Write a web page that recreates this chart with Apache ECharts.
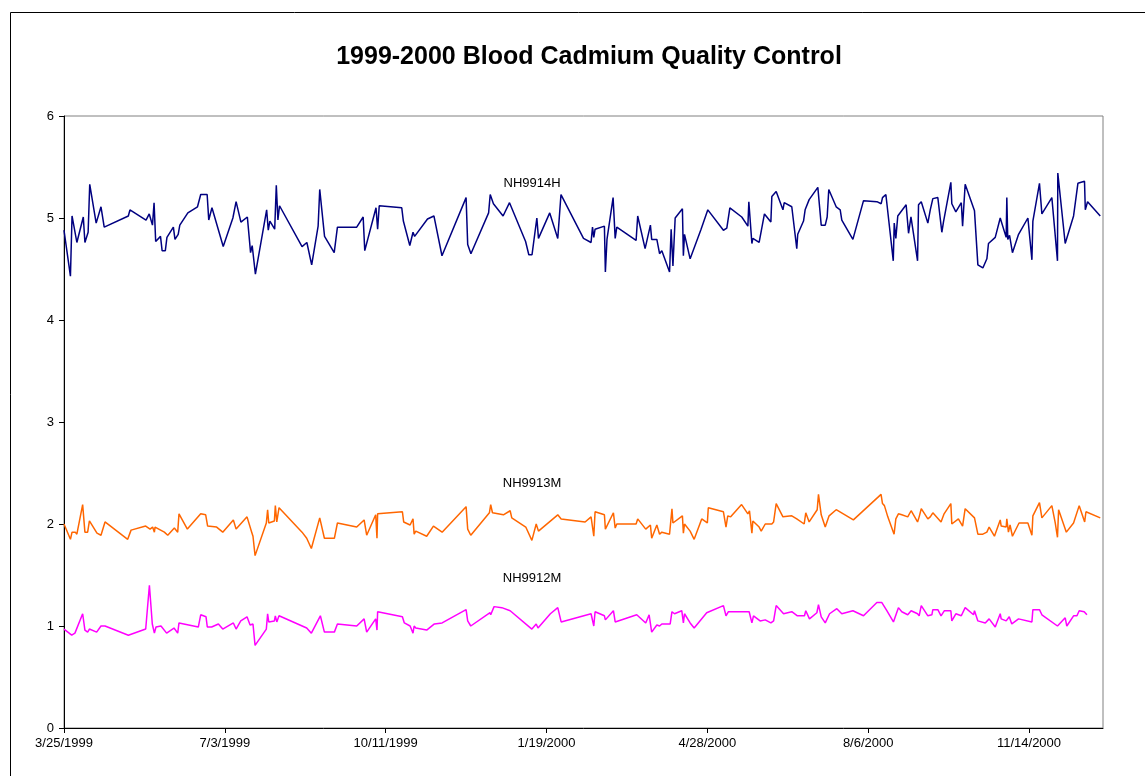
<!DOCTYPE html>
<html>
<head>
<meta charset="utf-8">
<script src="https://cdn.jsdelivr.net/npm/echarts@6/dist/echarts.min.js"></script>
<style>
  html, body { margin: 0; padding: 0; background: #fff; }
  #main { width: 1145px; height: 776px; }
</style>
</head>
<body>
<div id="main"></div>
<script>
// x values are days since the first run, 3/25/1999
var startDate = Date.UTC(1999, 2, 25);
var xTickStep = 100;
var xMaxDay = 646;
var yTicks = [0, 1, 2, 3, 4, 5, 6];
var seriesNames = ['NH9914H', 'NH9913M', 'NH9912M'];

var nh9914H = [
  [0,4.88],[4,4.43],[5,5.02],[8,4.76],[12,5.01],[13,4.76],[15,4.86],[16,5.33],[20,4.95],[23,5.11],
  [25,4.91],[40,5.02],[41,5.08],[51,4.98],[53,5.04],[55,4.93],[56,5.15],[57,4.77],[60,4.82],[61,4.68],
  [63,4.68],[64,4.81],[68,4.91],[69,4.79],[71,4.84],[72,4.93],[77,5.05],[83,5.11],[85,5.23],[89,5.23],
  [90,4.98],[92,5.10],[99,4.72],[105,5.0],[107,5.16],[110,4.96],[114,5.01],[116,4.66],[117,4.73],[119,4.45],
  [126,5.08],[127,4.88],[128,4.97],[131,4.89],[132,5.32],[133,4.98],[134,5.12],[148,4.72],[151,4.76],[154,4.54],
  [158,4.92],[159,5.28],[162,4.82],[168,4.66],[170,4.91],[182,4.91],[186,5.01],[187,4.68],[194,5.10],[195,4.89],
  [196,5.12],[210,5.10],[211,4.97],[215,4.73],[217,4.86],[218,4.82],[226,4.99],[230,5.02],[235,4.63],[250,5.20],
  [251,4.74],[253,4.65],[264,5.05],[265,5.23],[267,5.14],[273,5.02],[277,5.15],[287,4.77],[289,4.64],[291,4.64],
  [294,5.00],[295,4.80],[302,5.05],[307,4.80],[309,5.23],[323,4.80],[327.7,4.76],[328.6,4.91],[329.4,4.81],[330.2,4.89],
  [336,4.92],[336.6,4.47],[337.6,4.79],[341.4,5.20],[342.7,4.80],[343.7,4.91],[355.7,4.78],[356.7,5.02],[361.3,4.70],[364.6,4.93],
  [365.4,4.79],[368.6,4.79],[370.3,4.65],[371.7,4.68],[376.5,4.47],[377.5,4.89],[378.6,4.53],[380,5.00],[384.5,5.09],[385.1,4.63],
  [385.8,4.84],[389.3,4.60],[396.1,4.89],[400.3,5.08],[410,4.88],[412.1,4.90],[414,5.10],[421.4,5.01],[425.2,4.92],[425.8,5.16],
  [427.7,4.75],[428.3,4.80],[432.2,4.76],[435.5,5.04],[439.5,4.96],[440.1,5.21],[441.2,5.20],[442.8,5.26],[447,5.08],[447.8,5.15],
  [452.5,5.11],[455.6,4.70],[456.2,4.84],[459.8,4.97],[460.8,5.08],[463.3,5.18],[468.7,5.30],[470.8,4.93],[473.3,4.93],[474.5,5.01],
  [475.5,5.28],[480.1,5.11],[482.6,5.08],[483.6,4.98],[490.5,4.79],[497.1,5.17],[505.4,5.16],[508.1,5.14],[508.9,5.20],[511,5.23],
  [515.6,4.58],[516.2,4.95],[517.2,4.80],[518.4,5.02],[523.6,5.13],[525.1,4.85],[526.6,5.01],[530.7,4.58],[531.3,5.13],[533,5.16],
  [537.1,4.95],[538.6,5.08],[539.6,5.08],[540.2,5.19],[543.3,5.20],[545.8,4.86],[546.8,4.96],[551.4,5.35],[552,5.14],[554.5,5.06],
  [557.9,5.15],[558.7,4.92],[560.3,5.33],[566.1,5.07],[568.2,4.54],[571.3,4.51],[573.8,4.60],[574.8,4.75],[579,4.81],[582.1,5.00],
  [585.8,4.81],[586.2,5.20],[586.8,4.79],[587.9,4.83],[589.7,4.66],[593.5,4.84],[599.3,5.00],[601.8,4.59],[602.4,4.97],[606.5,5.34],
  [608,5.04],[614.2,5.20],[617.7,4.58],[617.9,5.44],[622.5,4.75],[627.7,5.02],[630.4,5.34],[634.5,5.36],[635,5.08],[636.4,5.16],
  [644.3,5.02]
];

var nh9913M = [
  [0,2.00],[4,1.85],[5,1.92],[7,1.92],[8,1.90],[11.6,2.19],[13,1.92],[14.7,1.92],[15.8,2.03],[20.5,1.91],
  [23,1.89],[25.5,2.02],[39.6,1.85],[41.7,1.94],[50.8,1.98],[53.5,1.95],[55.1,1.97],[56.2,1.92],[56.6,1.97],[62.4,1.92],
  [64.5,1.89],[68.6,1.96],[70.7,1.92],[71.5,2.10],[76.7,1.95],[85,2.10],[88.1,2.09],[89.3,1.98],[94.9,1.97],[98.7,1.92],
  [105.3,2.04],[107,1.95],[113.8,2.07],[116.7,1.92],[117.5,1.88],[118.8,1.69],[125.8,2.01],[126.6,2.14],[127.3,2.01],[130.8,2.03],
  [131.4,2.18],[132.3,2.02],[133.7,2.16],[148,1.92],[150.9,1.86],[153.8,1.76],[159,2.06],[161.9,1.86],[168.1,1.86],[170,2.01],
  [182,1.97],[186.6,2.04],[188.2,1.89],[193.8,2.09],[194.6,1.86],[195,2.10],[210.4,2.12],[211.2,2.02],[215.2,1.99],[217,2.05],
  [217.7,1.90],[218.7,1.93],[225.5,1.88],[229.7,1.98],[235.1,1.92],[250,2.17],[251,1.95],[252.9,1.89],[264.5,2.11],[265.3,2.19],
  [266.4,2.11],[273.2,2.09],[277.4,2.13],[278.4,2.06],[287.1,1.97],[290.9,1.84],[293.6,2.00],[295,1.93],[307,2.09],[309.1,2.05],
  [324,2.02],[327.7,2.07],[329.4,1.88],[330.2,2.12],[336,2.09],[336.6,1.95],[341.6,2.11],[342.7,1.96],[343.7,2.00],[355.7,2.00],
  [356.7,2.05],[361.7,1.95],[364.6,1.99],[365.4,1.86],[368.6,1.99],[370.3,1.90],[371.7,1.92],[376.5,1.90],[378,2.15],[378.6,2.01],
  [384.5,2.08],[385.1,1.91],[385.8,2.00],[389.3,1.93],[391.8,1.85],[396.5,2.05],[400,2.01],[400.6,2.16],[410,2.12],[411.6,1.97],
  [412.7,2.08],[414.5,2.07],[421.3,2.19],[425.2,2.10],[426.2,2.13],[427.7,1.91],[428.3,2.03],[432.2,1.97],[433.5,1.93],[436,2.00],
  [440.1,2.00],[441.2,2.02],[442.8,2.20],[447,2.07],[452.5,2.08],[455.6,2.05],[460.2,2.00],[461.2,2.11],[463.3,2.02],[468.3,2.14],
  [469.1,2.29],[470.8,2.09],[473.3,1.97],[475.7,2.08],[480.1,2.14],[490.8,2.04],[508,2.29],[508.9,2.20],[510.1,2.18],[512.2,2.07],
  [516.1,1.90],[517.2,2.05],[518.8,2.10],[520.9,2.09],[524.6,2.07],[526.7,2.13],[530.7,2.02],[531.7,2.07],[533,2.15],[537.1,2.05],
  [538.6,2.07],[540.2,2.11],[545.3,2.02],[547.2,2.10],[551.4,2.20],[552,2.00],[556.1,2.05],[558.7,1.98],[560.3,2.15],[566.1,2.06],
  [568.2,1.90],[571.3,1.90],[573.8,1.92],[575.2,1.97],[578.5,1.88],[582.1,2.04],[582.7,1.98],[585.8,1.97],[586.2,2.05],[587.2,1.92],
  [588.2,1.99],[589.7,1.88],[593.8,2.01],[599.3,2.01],[601.8,1.89],[602.4,2.08],[606.5,2.21],[608,2.06],[614.2,2.18],[616.3,2.01],
  [617.7,1.87],[618.4,2.14],[623.2,1.92],[627.7,2.01],[628.8,2.01],[631.2,2.18],[634.6,2.02],[635.4,2.12],[644.3,2.06]
];

var nh9912M = [
  [0,0.97],[4.8,0.91],[6.8,0.93],[11.6,1.12],[13,0.96],[14.7,0.94],[15.8,0.97],[20.3,0.94],[23,1.00],[25.5,1.00],
  [40,0.91],[50.8,0.97],[53.1,1.40],[54.9,1.02],[56.2,0.93],[57.2,0.99],[60.3,1.00],[63.8,0.93],[68.4,0.98],[70.7,0.93],
  [71.5,1.03],[83.5,0.99],[85,1.11],[88.3,1.09],[89.1,0.99],[91.8,0.99],[96,1.02],[98.7,0.97],[105.3,1.03],[107,0.97],
  [109.9,1.05],[113.8,1.09],[115.7,1.01],[117.5,1.02],[118.8,0.81],[125.8,0.97],[126.6,1.12],[127.3,1.04],[130.8,1.05],[131.4,1.10],
  [132.3,1.04],[133.7,1.10],[150.9,0.98],[153.8,0.93],[159.4,1.10],[161.9,0.94],[168.1,0.94],[170,1.02],[182,1.00],[186.6,1.07],
  [188.2,0.94],[193.8,1.07],[194.6,0.96],[195,1.14],[210.4,1.09],[211.6,1.03],[215.2,1.00],[217,0.93],[217.7,1.00],[218.7,0.98],
  [225.5,0.96],[230.3,1.02],[235.1,1.03],[250,1.16],[251,1.05],[252.9,1.00],[264.9,1.13],[265.3,1.11],[267.4,1.19],[272.2,1.18],
  [277.4,1.15],[290.9,0.97],[293.6,1.02],[294.7,0.98],[302.4,1.12],[307,1.18],[309.1,1.04],[327.7,1.12],[329.4,1.00],[330.2,1.14],
  [336,1.10],[336.6,1.06],[341.6,1.15],[342.7,1.04],[356.1,1.11],[361.7,1.03],[363.8,1.11],[365.4,0.94],[368.6,1.01],[370.3,1.00],
  [371.7,1.02],[376.9,1.02],[378,1.14],[379.6,1.12],[384.1,1.15],[385.1,1.03],[385.8,1.12],[389.3,1.03],[391.8,0.98],[399.6,1.13],
  [410,1.20],[411.6,1.10],[413.1,1.14],[426,1.14],[427.7,1.03],[428.7,1.10],[432.8,1.05],[436,1.06],[439.5,1.03],[441.2,1.05],
  [442.8,1.20],[447.4,1.12],[452.5,1.14],[456,1.10],[460.4,1.10],[461.2,1.15],[463.5,1.07],[468.1,1.13],[469.1,1.21],[470.8,1.09],
  [473.3,1.03],[476,1.12],[480.5,1.17],[483.6,1.12],[490.5,1.15],[497.1,1.10],[505.4,1.23],[508.5,1.23],[511.6,1.15],[515.7,1.04],
  [518.8,1.18],[520.9,1.14],[524.6,1.11],[526.7,1.15],[530.7,1.12],[531.7,1.10],[533,1.20],[537.1,1.10],[539.6,1.11],[540.2,1.16],
  [543.3,1.16],[545.3,1.10],[547.4,1.15],[551.4,1.15],[552,1.05],[554.5,1.12],[557.9,1.10],[560.3,1.18],[565.5,1.11],[566.1,1.15],
  [568.2,1.05],[572.8,1.03],[575.2,1.07],[579,0.99],[582.1,1.12],[582.7,1.07],[585.8,1.05],[587.7,1.09],[589.3,1.02],[593.5,1.07],
  [601.8,1.04],[602.4,1.16],[606.5,1.16],[608,1.11],[617.7,1.00],[622.5,1.08],[623.5,1.00],[627.7,1.10],[629.8,1.10],[631.2,1.15],
  [634.3,1.14],[636,1.11]
];

// where each series name label sits, in data units [day, value]
var nameLabelAt = [[291, 5.34], [291, 2.40], [291, 1.47]];

var colors = ['#000080', '#FF6600', '#FF00FF'];
var fontFamily = '"Liberation Sans", Arial, sans-serif';

function dayToLabel(d) {
  var dt = new Date(startDate + d * 86400000);
  return (dt.getUTCMonth() + 1) + '/' + dt.getUTCDate() + '/' + dt.getUTCFullYear();
}

var chart = echarts.init(document.getElementById('main'));
var allData = [nh9914H, nh9913M, nh9912M];

var series = [];
for (var i = 0; i < allData.length; i++) {
  series.push({
    name: seriesNames[i],
    type: 'line',
    data: allData[i],
    symbol: 'none',
    lineStyle: { color: colors[i], width: 1.5 },
    itemStyle: { color: colors[i] },
    markPoint: {
      symbol: 'circle',
      symbolSize: 0,
      silent: true,
      data: [{ coord: nameLabelAt[i] }],
      label: {
        show: true,
        position: 'inside',
        formatter: seriesNames[i],
        color: '#000',
        fontSize: 13,
        fontFamily: fontFamily
      }
    }
  });
}

chart.setOption({
  backgroundColor: '#fff',
  animation: false,
  title: {
    text: '1999-2000 Blood Cadmium Quality Control',
    left: 584,
    textAlign: 'center',
    top: 40,
    textStyle: { fontSize: 25, fontWeight: 'bold', color: '#000', fontFamily: fontFamily }
  },
  graphic: [{
    type: 'rect',
    shape: { x: 10.5, y: 12.5, width: 1200, height: 900 },
    style: { fill: 'none', stroke: '#000', lineWidth: 1 },
    silent: true
  }],
  grid: {
    left: 64, right: 42, top: 116, bottom: 48,
    show: true, borderColor: '#808080', borderWidth: 1, backgroundColor: 'transparent'
  },
  xAxis: {
    type: 'value',
    min: 0,
    max: xMaxDay,
    interval: xTickStep,
    axisLine: { show: true, lineStyle: { color: '#000', width: 1 } },
    axisTick: { show: true, inside: false, length: 5, lineStyle: { color: '#000' } },
    splitLine: { show: false },
    axisLabel: {
      showMaxLabel: false,
      margin: 9,
      color: '#000',
      fontSize: 13,
      fontFamily: fontFamily,
      formatter: function (v) { return dayToLabel(v); }
    }
  },
  yAxis: {
    type: 'value',
    min: yTicks[0],
    max: yTicks[yTicks.length - 1],
    interval: 1,
    axisLine: { show: true, lineStyle: { color: '#000', width: 1 } },
    axisTick: { show: true, inside: false, length: 5, lineStyle: { color: '#000' } },
    splitLine: { show: false },
    axisLabel: { margin: 10, color: '#000', fontSize: 13, fontFamily: fontFamily }
  },
  series: series
});
</script>
</body>
</html>
